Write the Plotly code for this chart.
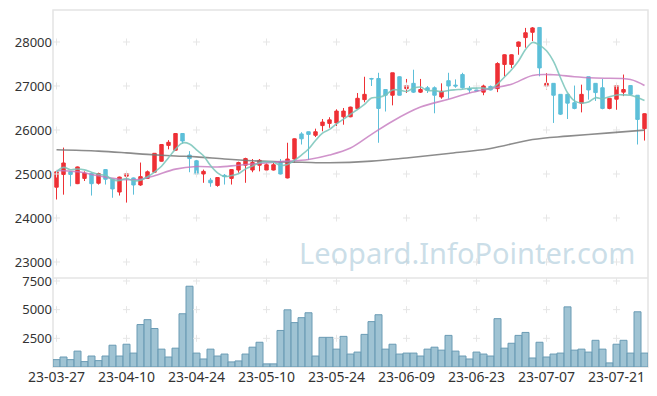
import plotly.graph_objects as go
import pandas as pd

dates = ["23-03-27","23-03-28","23-03-29","23-03-30","23-03-31",
 "23-04-03","23-04-04","23-04-05","23-04-06","23-04-07","23-04-10","23-04-11","23-04-12","23-04-13","23-04-14",
 "23-04-17","23-04-18","23-04-19","23-04-20","23-04-21","23-04-24","23-04-25","23-04-26","23-04-27","23-04-28",
 "23-05-02","23-05-03","23-05-04","23-05-08","23-05-09","23-05-10","23-05-11","23-05-12","23-05-15","23-05-16",
 "23-05-17","23-05-18","23-05-19","23-05-22","23-05-23","23-05-24","23-05-25","23-05-26","23-05-30","23-05-31",
 "23-06-01","23-06-02","23-06-05","23-06-07","23-06-08","23-06-09","23-06-12","23-06-13","23-06-14","23-06-15",
 "23-06-16","23-06-19","23-06-20","23-06-21","23-06-22","23-06-23","23-06-26","23-06-27","23-06-28","23-06-29",
 "23-06-30","23-07-03","23-07-04","23-07-05","23-07-06","23-07-07","23-07-10","23-07-11","23-07-12","23-07-13",
 "23-07-14","23-07-17","23-07-18","23-07-19","23-07-20","23-07-21","23-07-24","23-07-25","23-07-26","23-07-27"]

opens = [24700,24990,25050,24780,24900,25010,24790,25100,24880,24590,
         24950,24910,24750,24900,25040,25290,25650,25540,25920,25430,
         25300,25000,24860,24740,24970,24900,25090,25200,25090,25200,
         25090,25090,25260,24910,25340,25910,25960,25880,26100,26150,
         26160,26300,26300,26490,26690,27170,27170,26920,26790,27210,
         26940,27060,26860,26960,26960,26750,27120,27020,27260,26940,
         26910,26860,26990,26940,27490,27490,27900,28100,28220,28330,
         27000,27060,26810,26810,26620,26610,27210,27060,26960,26490,
         26700,26860,27010,26790,26030]
highs = [25060,25600,25060,25170,25060,25030,25030,25110,24890,24940,
         25020,24920,25260,25080,25470,25680,25770,25930,25930,25520,
         25320,25100,24910,24930,25000,25110,25280,25370,25340,25340,
         25240,25250,25340,25710,25810,25950,25965,26030,26250,26290,
         26470,26500,26530,26840,27210,27185,27300,26930,27300,27220,
         27160,27370,27160,27000,26990,27060,27300,27150,27300,27000,
         26940,27030,27010,27540,27720,27720,28010,28320,28340,28340,
         27290,27060,26810,26810,27010,27030,27210,27060,27160,26720,
         27010,27260,27020,26790,26380]
lows = [24420,24530,24720,24770,24840,24510,24760,24760,24460,24510,
        24350,24530,24730,24890,25030,25280,25560,25530,25690,25040,
        24990,24800,24710,24710,24760,24760,25030,24800,25040,25060,
        24990,25080,24990,24900,25260,25670,25320,25840,25970,26050,
        26090,26120,26290,26470,26630,27000,25710,26420,26560,26830,
        26840,26840,26840,26840,26380,26710,26710,26960,26940,26840,
        26880,26790,26900,26860,27220,27410,27710,27870,28020,27220,
        26920,26160,26340,26250,26470,26400,26690,26660,26470,26470,
        26460,26770,26790,25670,25760]
closes = [25050,25250,24990,25160,25020,24780,25010,24880,24660,24930,
          25010,24750,24940,25050,25470,25670,25720,25920,25750,25350,
          25000,25060,24800,24920,24940,25100,25260,25350,25260,25310,
          25210,25210,25000,25340,25800,25800,25900,25960,26180,26230,
          26430,26430,26520,26720,26810,27160,26490,26790,27300,26790,
          27010,26860,26920,26900,26790,26880,27000,27000,26960,26910,
          26890,27000,26910,27510,27710,27710,28000,28210,28320,27410,
          27060,26790,26360,26610,26490,26810,26910,26850,26490,26720,
          27010,26920,26810,26240,26370]
volumes = [643,871,643,1386,471,957,557,957,1900,957,
           1986,1214,3700,4128,3357,1557,871,1643,4643,7043,
           1214,700,1557,957,1128,443,529,1128,1728,2157,
           271,271,3186,4986,3871,4300,4728,957,2586,2586,
           1557,2671,1128,1300,2843,3957,4557,1557,1986,1128,
           1214,1214,957,1557,1728,1471,2757,1386,957,700,
           1300,1128,957,4214,1643,2071,2757,3014,786,2157,
           871,1128,1214,5243,1471,1557,1300,2328,1557,357,
           1986,2328,1214,4814,1214]

# moving-average lines at sample days
ma20_idx = [0,3,6,9,12,14,17,20,23,26,29,32,36,39,42,45,48,52,56,59,62,65,68,71,74,77,82,84]
ma20_val = [25080,25050,24960,24880,24880,24960,25110,25170,25160,25200,25240,25280,25330,25430,
            25590,25900,26200,26520,26700,26840,26940,27040,27240,27255,27210,27180,27148,27010]
malong_idx = [0,6,10,13,17,20,24,28,32,35,39,45,50,56,62,68,73,79,84]
malong_val = [25550,25520,25480,25445,25410,25390,25340,25300,25275,25268,25255,25292,25365,
              25465,25580,25784,25860,25935,25996]

price_ticks = [23000,24000,25000,26000,27000,28000]
vol_ticks = [2500,5000,7500]
tick_every = 10

ma5 = pd.Series(closes).rolling(5, min_periods=1).mean()

xt = dates[::tick_every]
up = "#ee3035"
down = "#5dbfd9"

fig = go.Figure()

# volume bars (first so category order follows the dates)
fig.add_trace(go.Bar(x=dates, y=volumes, width=1,
                     marker=dict(color="rgba(142,184,203,0.85)", line=dict(color="#6a9bb4", width=1)),
                     xaxis="x", yaxis="y2"))

fig.add_trace(go.Candlestick(
    x=dates, open=opens, high=highs, low=lows, close=closes,
    increasing=dict(line=dict(color=up, width=1), fillcolor=up),
    decreasing=dict(line=dict(color=down, width=1), fillcolor=down),
    whiskerwidth=0, xaxis="x", yaxis="y"))

# grid crosses
gx = [d for d in xt for _ in price_ticks]
gy = [p for _ in xt for p in price_ticks]
fig.add_trace(go.Scatter(x=gx, y=gy, mode="markers", hoverinfo="skip",
                         marker=dict(symbol="cross-thin", size=5, line=dict(color="#e6e6e6", width=1)),
                         xaxis="x", yaxis="y"))
vx = [d for d in xt for _ in vol_ticks]
vy = [p for _ in xt for p in vol_ticks]
fig.add_trace(go.Scatter(x=vx, y=vy, mode="markers", hoverinfo="skip",
                         marker=dict(symbol="cross-thin", size=5, line=dict(color="#e6e6e6", width=1)),
                         xaxis="x", yaxis="y2"))

fig.add_trace(go.Scatter(x=[dates[i] for i in malong_idx], y=malong_val, mode="lines",
                         line=dict(color="rgba(120,120,120,0.85)", width=1.6, shape="spline"),
                         xaxis="x", yaxis="y"))
fig.add_trace(go.Scatter(x=[dates[i] for i in ma20_idx], y=ma20_val, mode="lines",
                         line=dict(color="rgba(196,120,190,0.8)", width=1.6, shape="spline"),
                         xaxis="x", yaxis="y"))
fig.add_trace(go.Scatter(x=dates, y=ma5, mode="lines",
                         line=dict(color="rgba(120,196,186,0.85)", width=1.6, shape="spline"),
                         xaxis="x", yaxis="y"))

split = 89 / 357
tickfont = dict(family="Noto Sans", size=13, color="#333333")
xtickfont = dict(family="Noto Sans", size=14, color="#333333")
fig.update_layout(
    width=657, height=396,
    margin=dict(l=53, r=9, t=10, b=29, autoexpand=False),
    paper_bgcolor="white", plot_bgcolor="white",
    showlegend=False, boxgap=0.3,
    xaxis=dict(type="category", categoryorder="array", categoryarray=dates,
               range=[-0.5, 84.5], anchor="y2",
               tickvals=xt, ticktext=xt, showgrid=False, zeroline=False, automargin=False,
               rangeslider=dict(visible=False), tickfont=xtickfont, ticks="", ticklen=0, tickangle=0),
    yaxis=dict(domain=[split, 1], range=[22636, 28727], tickvals=price_ticks, automargin=False,
               ticktext=[str(v) for v in price_ticks], showgrid=False, zeroline=False,
               tickfont=tickfont, ticks="", anchor="x"),
    yaxis2=dict(domain=[0, split], range=[0, 7760], tickvals=vol_ticks, automargin=False,
                ticktext=[str(v) for v in vol_ticks], showgrid=False, zeroline=False,
                tickfont=tickfont, ticks="", anchor="x"),
    shapes=[
        dict(type="rect", xref="paper", yref="paper", x0=0, x1=1, y0=0, y1=1,
             line=dict(color="#e4e4e4", width=1.5), layer="below"),
        dict(type="line", xref="paper", yref="paper", x0=0, x1=1, y0=split, y1=split,
             line=dict(color="#e4e4e4", width=1.5), layer="below"),
    ],
    annotations=[dict(text="Leopard.InfoPointer.com", xref="paper", yref="paper",
                      x=0.697, y=0.322, xanchor="center", yanchor="middle", showarrow=False,
                      font=dict(family="Noto Sans", size=29, color="rgba(180,208,222,0.7)"))],
)

fig.write_html("out.html", config={"displayModeBar": False},
               post_script="document.body.style.margin='0px';document.body.style.overflow='hidden';")
